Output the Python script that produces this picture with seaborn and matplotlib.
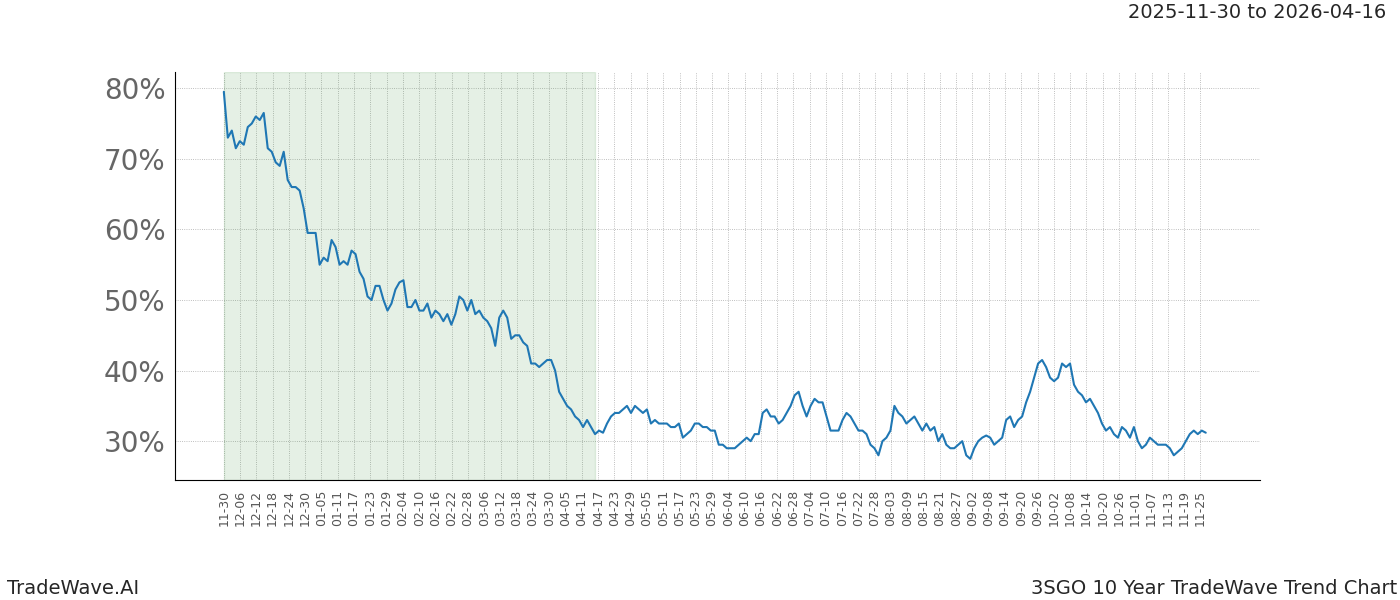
import pandas as pd
import numpy as np
import matplotlib
matplotlib.use("Agg")
import matplotlib.pyplot as plt
import matplotlib.dates as mdates
import matplotlib.ticker as mticker
import seaborn as sns

start_date = "2025-11-30"
end_date = "2026-11-27"
shade_end = "2026-04-16"

trend = [79.5, 73, 74, 71.5, 72.5, 72, 74.5, 75, 76, 75.5, 76.5, 71.5, 71, 69.5, 69, 71, 67, 66, 66, 65.5,
         63, 59.5, 59.5, 59.5, 55, 56, 55.5, 58.5, 57.5, 55, 55.5, 55, 57, 56.5, 54, 53, 50.5, 50, 52, 52,
         50, 48.5, 49.5, 51.5, 52.5, 52.8, 49, 49, 50, 48.5, 48.5, 49.5, 47.5, 48.5, 48, 47, 48, 46.5, 48, 50.5,
         50, 48.5, 50, 48, 48.5, 47.5, 47, 46, 43.5, 47.5, 48.5, 47.5, 44.5, 45, 45, 44, 43.5, 41, 41, 40.5,
         41, 41.5, 41.5, 40, 37, 36, 35, 34.5, 33.5, 33, 32, 33, 32, 31, 31.5, 31.2, 32.5, 33.5, 34, 34,
         34.5, 35, 34, 35, 34.5, 34, 34.5, 32.5, 33, 32.5, 32.5, 32.5, 32, 32, 32.5, 30.5, 31, 31.5, 32.5, 32.5,
         32, 32, 31.5, 31.5, 29.5, 29.5, 29, 29, 29, 29.5, 30, 30.5, 30, 31, 31, 34, 34.5, 33.5, 33.5, 32.5,
         33, 34, 35, 36.5, 37, 35, 33.5, 35, 36, 35.5, 35.5, 33.5, 31.5, 31.5, 31.5, 33, 34, 33.5, 32.5, 31.5,
         31.5, 31, 29.5, 29, 28, 30, 30.5, 31.5, 35, 34, 33.5, 32.5, 33, 33.5, 32.5, 31.5, 32.5, 31.5, 32, 30,
         31, 29.5, 29, 29, 29.5, 30, 28, 27.5, 29, 30, 30.5, 30.8, 30.5, 29.5, 30, 30.5, 33, 33.5, 32, 33,
         33.5, 35.5, 37, 39, 41, 41.5, 40.5, 39, 38.5, 39, 41, 40.5, 41, 38, 37, 36.5, 35.5, 36, 35, 34,
         32.5, 31.5, 32, 31, 30.5, 32, 31.5, 30.5, 32, 30, 29, 29.5, 30.5, 30, 29.5, 29.5, 29.5, 29, 28, 28.5,
         29, 30, 31, 31.5, 31, 31.5, 31.2]

dates = pd.date_range(start_date, end_date, periods=len(trend))
df = pd.DataFrame({"date": dates, "value": trend})

sns.set_style("white")
fig, ax = plt.subplots(figsize=(14, 6), dpi=100)
sns.lineplot(data=df, x="date", y="value", ax=ax, color="#1f77b4", linewidth=1.5)

ax.axvspan(pd.Timestamp(start_date), pd.Timestamp(shade_end), color="#2e8b2e", alpha=0.12)

ticks = pd.date_range(start_date, "2026-11-25", freq="6D")
ax.set_xticks(ticks)
ax.set_xticklabels([t.strftime("%m-%d") for t in ticks], rotation=90, fontsize=9, color="#555555")
ax.set_xlim(pd.Timestamp(start_date) - pd.Timedelta(days=18), pd.Timestamp(start_date) + pd.Timedelta(days=382))
ax.set_ylim(24.5, 82.3)
ax.yaxis.set_major_formatter(mticker.FuncFormatter(lambda v, p: f"{v:.0f}%"))
ax.set_yticks([30, 40, 50, 60, 70, 80])
ax.tick_params(axis="y", labelsize=20, labelcolor="#666666")
ax.grid(True, color="#aaaaaa", linestyle=":", linewidth=0.6)
ax.set_xlabel("")
ax.set_ylabel("")
for s in ["top", "right"]:
    ax.spines[s].set_visible(False)
for s in ["left", "bottom"]:
    ax.spines[s].set_color("black")

fig.subplots_adjust(left=0.125, right=0.9, top=0.88, bottom=0.2)
fig.text(0.99, 0.98, "2025-11-30 to 2026-04-16", ha="right", va="center", fontsize=14)
fig.text(0.005, 0.02, "TradeWave.AI", ha="left", va="center", fontsize=14)
fig.text(0.998, 0.02, "3SGO 10 Year TradeWave Trend Chart", ha="right", va="center", fontsize=14)
fig.savefig("out.png")
